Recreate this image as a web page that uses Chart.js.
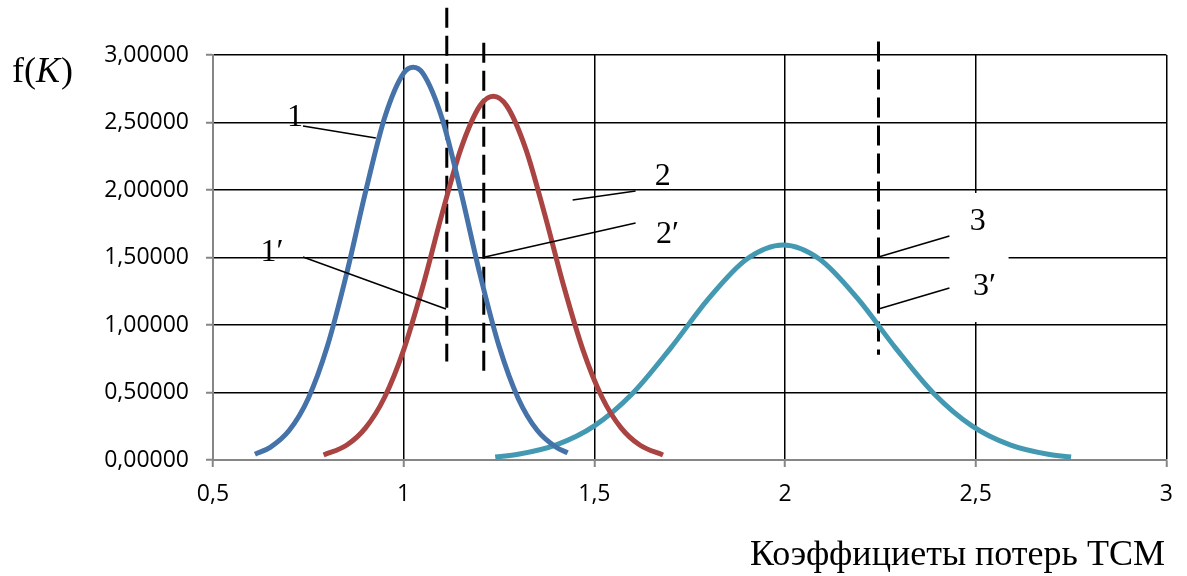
<!DOCTYPE html>
<html>
<head>
<meta charset="utf-8">
<script src="https://cdn.jsdelivr.net/npm/chart.js@4/dist/chart.umd.min.js"></script>
<style>
  html, body { margin: 0; padding: 0; background: #fff; }
  #wrap { width: 1187px; height: 576px; }
</style>
</head>
<body>
<div id="wrap"><canvas id="c" width="1187" height="576"></canvas></div>
<script>
// Density curves f(K) of the loss coefficients
const curve1X = [0.61, 0.65, 0.70, 0.75, 0.80, 0.85, 0.90, 0.95, 1.00, 1.025, 1.05, 1.10, 1.15, 1.20, 1.25, 1.30, 1.35, 1.40, 1.43];
const curve1Y = [0.043, 0.094, 0.220, 0.458, 0.844, 1.376, 1.986, 2.536, 2.866, 2.910, 2.866, 2.536, 1.986, 1.376, 0.844, 0.458, 0.220, 0.094, 0.053];

const curve2X = [0.79, 0.85, 0.90, 0.95, 1.00, 1.05, 1.10, 1.15, 1.20, 1.235, 1.27, 1.32, 1.37, 1.42, 1.47, 1.52, 1.57, 1.62, 1.68];
const curve2Y = [0.037, 0.109, 0.238, 0.465, 0.816, 1.285, 1.817, 2.305, 2.624, 2.695, 2.624, 2.305, 1.817, 1.285, 0.816, 0.465, 0.238, 0.109, 0.037];

const curve3X = [1.24, 1.30, 1.40, 1.50, 1.60, 1.70, 1.80, 1.90, 1.995, 2.09, 2.19, 2.29, 2.39, 2.49, 2.59, 2.69, 2.75];
const curve3Y = [0.022, 0.042, 0.112, 0.253, 0.493, 0.829, 1.197, 1.489, 1.593, 1.489, 1.197, 0.829, 0.493, 0.253, 0.112, 0.042, 0.022];

// Vertical dashed markers K (one per curve)
const markerX      = [1.113, 1.21, 2.245];
const markerTop    = [3.35, 3.09, 3.10];
const markerBottom = [0.73, 0.65, 0.78];

// Axis ticks
const xTicks = [0.5, 1, 1.5, 2, 2.5, 3];
const yTicks = [0, 0.5, 1, 1.5, 2, 2.5, 3];

// Curve labels: text, text anchor (K, f) and leader line (K, f) -> (K, f)
const labelText = ['1', '1\u2032', '2', '2\u2032', '3', '3\u2032'];
const labelAt   = [[0.715, 2.533], [0.655, 1.533], [1.679, 2.096], [1.692, 1.667], [2.505, 1.763], [2.523, 1.281]];
const leaderFrom = [[0.736, 2.474], [0.736, 1.504], [1.443, 1.926], [1.213, 1.504], [2.245, 1.504], [2.245, 1.119]];
const leaderTo   = [[0.927, 2.385], [1.111, 1.119], [1.608, 1.993], [1.608, 1.756], [2.431, 1.659], [2.431, 1.274]];
// Blank area behind labels 3 and 3'
const blankBox = { x0: 2.431, x1: 2.586, y0: 1.022, y1: 1.978 };

const pts = (xs, ys) => xs.map((x, i) => ({ x, y: ys[i] }));

const curveColors = ['#4672AA', '#AA4442', '#4399B1'];
const curves = [pts(curve1X, curve1Y), pts(curve2X, curve2Y), pts(curve3X, curve3Y)];

const datasets = curves.map((d, i) => ({
  data: d,
  showLine: true,
  borderColor: curveColors[i],
  borderWidth: 5,
  pointRadius: 0,
  cubicInterpolationMode: 'monotone',
  order: 0
}));

markerX.forEach((x, i) => {
  datasets.push({
    data: [{ x, y: markerTop[i] }, { x, y: markerBottom[i] }],
    showLine: true,
    borderColor: '#000',
    borderWidth: 3,
    borderDash: [20, 8],
    pointRadius: 0,
    clip: false,
    order: 1
  });
});

const fmtY = v => v.toFixed(5).replace('.', ',');
const fmtX = v => String(v).replace('.', ',');

const decorations = {
  id: 'decorations',
  beforeDatasetsDraw(chart) {
    const { ctx, scales: { x, y } } = chart;
    ctx.save();
    ctx.fillStyle = '#fff';
    const px0 = x.getPixelForValue(blankBox.x0), px1 = x.getPixelForValue(blankBox.x1);
    const py0 = y.getPixelForValue(blankBox.y1), py1 = y.getPixelForValue(blankBox.y0);
    ctx.fillRect(px0, py0, px1 - px0, py1 - py0);
    ctx.restore();
  },
  afterDatasetsDraw(chart) {
    const { ctx, scales: { x, y } } = chart;
    ctx.save();
    ctx.strokeStyle = '#000';
    ctx.lineWidth = 1.6;
    leaderFrom.forEach((a, i) => {
      const b = leaderTo[i];
      ctx.beginPath();
      ctx.moveTo(x.getPixelForValue(a[0]), y.getPixelForValue(a[1]));
      ctx.lineTo(x.getPixelForValue(b[0]), y.getPixelForValue(b[1]));
      ctx.stroke();
    });
    ctx.fillStyle = '#000';
    ctx.font = '32px "Liberation Serif", "DejaVu Serif", serif';
    ctx.textAlign = 'center';
    ctx.textBaseline = 'middle';
    labelText.forEach((t, i) => {
      ctx.fillText(t, x.getPixelForValue(labelAt[i][0]), y.getPixelForValue(labelAt[i][1]));
    });
    ctx.restore();
  },
  afterDraw(chart) {
    const { ctx } = chart;
    ctx.save();
    ctx.fillStyle = '#000';
    ctx.textBaseline = 'alphabetic';
    ctx.textAlign = 'left';
    // f(K) with italic K
    const serif = '"Liberation Serif", "DejaVu Serif", serif';
    let cx = 12;
    const base = 82;
    ctx.font = '36px ' + serif;
    ctx.fillText('f(', cx, base);
    cx += ctx.measureText('f(').width;
    ctx.font = 'italic 36px ' + serif;
    ctx.fillText('K', cx, base);
    cx += ctx.measureText('K').width + 1;
    ctx.font = '36px ' + serif;
    ctx.fillText(')', cx, base);
    // horizontal axis title
    ctx.font = '36px ' + serif;
    ctx.textAlign = 'right';
    ctx.fillText('Коэффициеты потерь ТСМ', 1165, 565);
    ctx.restore();
  }
};

const tickFont = { family: '"Open Sans", "Liberation Sans", sans-serif', size: 23 };

new Chart(document.getElementById('c'), {
  type: 'scatter',
  data: { datasets },
  plugins: [decorations],
  options: {
    responsive: false,
    animation: false,
    devicePixelRatio: 1,
    layout: { padding: { left: 0, right: 20, top: 55, bottom: 0 } },
    plugins: { legend: { display: false }, tooltip: { enabled: false } },
    scales: {
      x: {
        type: 'linear',
        min: xTicks[0],
        max: xTicks[xTicks.length - 1],
        afterBuildTicks: s => { s.ticks = xTicks.map(v => ({ value: v })); },
        afterFit: s => { s.height = 116; },
        ticks: { callback: v => fmtX(v), color: '#000', font: tickFont, padding: 14, maxRotation: 0, autoSkip: false },
        grid: { color: '#000', lineWidth: 1.5, tickColor: '#868686', tickLength: 7, tickWidth: 2 },
        border: { color: '#868686', width: 2 }
      },
      y: {
        type: 'linear',
        min: yTicks[0],
        max: yTicks[yTicks.length - 1],
        afterBuildTicks: s => { s.ticks = yTicks.map(v => ({ value: v })); },
        afterFit: s => { s.width = 213; },
        ticks: { callback: v => fmtY(v), color: '#000', font: tickFont, padding: 17, autoSkip: false },
        grid: { color: '#000', lineWidth: 1.5, tickColor: '#868686', tickLength: 7, tickWidth: 2 },
        border: { color: '#868686', width: 2 }
      }
    }
  }
});
</script>
</body>
</html>
